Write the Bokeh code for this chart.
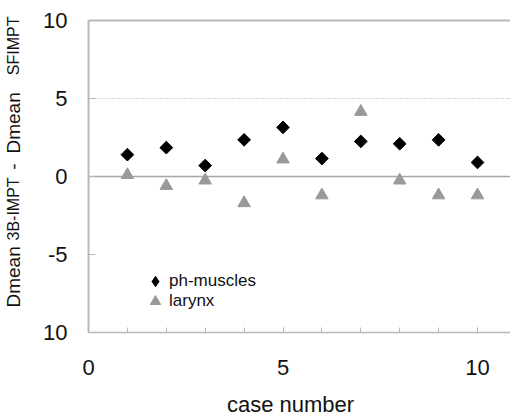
import math
from bokeh.plotting import figure
from bokeh.models import (FixedTicker, Legend, LegendItem, Range1d, Label,
                          ColumnDataSource, LinearAxis)
from bokeh.embed import file_html
from bokeh.resources import INLINE

# ---- data ----
cases = [1, 2, 3, 4, 5, 6, 7, 8, 9, 10]
ph_muscles = [1.4, 1.85, 0.7, 2.35, 3.15, 1.15, 2.25, 2.1, 2.35, 0.9]
larynx = [0.1, -0.6, -0.25, -1.7, 1.1, -1.2, 4.15, -0.25, -1.2, -1.2]
series_names = ["ph-muscles", "larynx"]
x_ticks = [0, 5, 10]
x_minor_ticks = [1, 2, 3, 4, 5, 6, 7, 8, 9, 10]
y_ticks = [-10, -5, 0, 5, 10]
y_tick_overrides = {-10: "10", -5: "-5"}
ref_solid = [0, 10]
ref_dotted = [5]
x_label = "case number"
y_label_parts = ["Dmean", "3B-IMPT", "-", "Dmean", "SFIMPT"]

FONT = "Liberation Sans"
GRAY_AXIS = "#b8b8b8"
GRAY_LINE = "#a6a6a6"
GRAY_TRI = "#999999"
TXT = "#111111"

# ---- layout geometry (pixels) ----
W, H = 510, 416
X0PX, XPU = 88, 38.9      # pixel of x=0, pixels per unit
Y0PX, YPU = 176, 15.6     # pixel of y=0, pixels per unit
X_END = (W - X0PX) / XPU


def dx(px):
    return (px - X0PX) / XPU


def dy(py):
    return (Y0PX - py) / YPU


p = figure(width=W, height=H, output_backend="svg", toolbar_location=None,
           x_range=Range1d(dx(0), dx(W)), y_range=Range1d(dy(H), dy(0)),
           x_axis_location=None, y_axis_location=None, min_border=0)
p.outline_line_color = None
p.grid.visible = False

# horizontal reference lines across the plot area
seg_src = ColumnDataSource(dict(
    y=ref_solid, x0=[x_ticks[0]] * len(ref_solid), x1=[X_END] * len(ref_solid),
    c=[GRAY_LINE if v == 0 else GRAY_AXIS for v in ref_solid],
    w=[1.5 if v == 0 else 2 for v in ref_solid]))
p.segment(x0="x0", y0="y", x1="x1", y1="y", source=seg_src,
          line_color="c", line_width="w")
p.segment(x0=[x_ticks[0]] * len(ref_dotted), y0=ref_dotted,
          x1=[X_END] * len(ref_dotted), y1=ref_dotted,
          line_color=GRAY_LINE, line_width=1, line_dash="1 2")

src = ColumnDataSource(dict(x=cases, ph=ph_muscles, lar=larynx))
r1 = p.scatter("x", "ph", source=src, marker="square", size=9, angle=math.pi / 4,
               fill_color="black", line_color="black")
r2 = p.scatter("x", "lar", source=src, marker="triangle", size=12.5,
               fill_color=GRAY_TRI, line_color=GRAY_TRI)
r1_leg = p.scatter("x", "ph", source=src, marker="diamond", size=9,
                   fill_color="black", line_color="black", visible=False)

# x axis fixed at y = -10
xa = LinearAxis(fixed_location=y_ticks[0], bounds=(x_ticks[0], X_END))
xa.ticker = FixedTicker(ticks=x_ticks, minor_ticks=x_minor_ticks)
xa.axis_line_color = GRAY_AXIS
xa.axis_line_width = 1.5
xa.major_tick_line_color = GRAY_AXIS
xa.minor_tick_line_color = GRAY_AXIS
xa.major_tick_in = 5
xa.major_tick_out = 0
xa.minor_tick_in = 5
xa.minor_tick_out = 0
xa.major_label_standoff = 27
xa.major_label_text_font = FONT
xa.major_label_text_font_size = "22px"
xa.major_label_text_color = TXT
p.add_layout(xa, "below")

# y axis fixed at x = 0
ya = LinearAxis(fixed_location=x_ticks[0], bounds=(y_ticks[0], y_ticks[-1]))
ya.ticker = FixedTicker(ticks=y_ticks, minor_ticks=[])
ya.major_label_overrides = y_tick_overrides
ya.axis_line_color = GRAY_AXIS
ya.axis_line_width = 2
ya.major_tick_line_color = GRAY_AXIS
ya.major_tick_in = 7
ya.major_tick_out = 0
ya.minor_tick_line_color = None
ya.major_label_standoff = 21
ya.major_label_text_font = FONT
ya.major_label_text_font_size = "22px"
ya.major_label_text_color = TXT
p.add_layout(ya, "left")

# axis titles
p.add_layout(Label(x=dx(290), y=dy(404), text=x_label, text_align="center",
                   text_baseline="alphabetic", text_font=FONT,
                   text_font_size="22px", text_color=TXT))
part_py = [307, 240, 166, 153, 16]
part_align = ["left", "left", "center", "left", "right"]
part_size = [19, 16, 19, 19, 16]
for t, py, a, s in zip(y_label_parts, part_py, part_align, part_size):
    p.add_layout(Label(x=dx(13), y=dy(py), text=t, angle=math.pi / 2,
                       text_align=a, text_baseline="alphabetic",
                       text_font=FONT, text_font_size=f"{s}px",
                       text_color=TXT))

# one legend per entry so that the rows sit 20 px apart with large glyphs
legend_rows = [(series_names[0], r1_leg, 281), (series_names[1], r2, 301)]
for name, rend, cy in legend_rows:
    lg = Legend(items=[LegendItem(label=name, renderers=[rend])],
                location=(142, H - (cy + 13)), glyph_width=26, glyph_height=26,
                label_height=20, spacing=0, padding=0, margin=0,
                label_standoff=1, background_fill_alpha=0,
                border_line_color=None, label_text_font=FONT,
                label_text_font_size="17px", label_text_color=TXT)
    p.add_layout(lg, "center")

open("out.html", "w").write(file_html(p, INLINE))
